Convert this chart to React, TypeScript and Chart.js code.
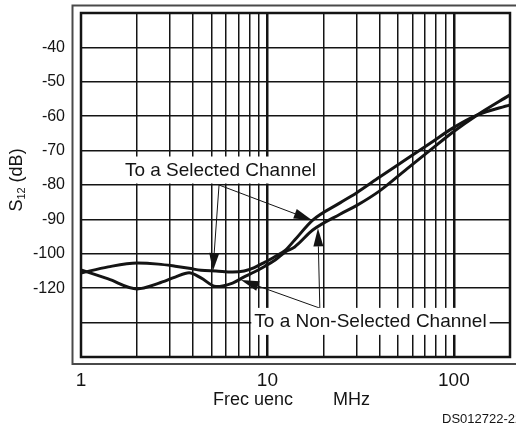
import { useEffect, useRef } from 'react';
import { Chart, registerables } from 'chart.js';

Chart.register(...registerables);

// ---- data (frequency in MHz, S12 on the drawn axis scale) ----
const freqSelected = [1, 1.4, 2, 2.6, 3.2, 3.8, 4.4, 5.3, 6.5, 7.5, 8.5, 9.7, 11, 12.5, 14, 17.5, 24.5, 30, 40, 56, 75, 99, 133, 200];
const dbSelected = [-105.6, -103.8, -102.7, -103.0, -103.6, -104.2, -104.8, -105.0, -105.3, -105.0, -104.0, -102.4, -100.8, -98.9, -96.0, -90.2, -85.2, -82.3, -77.7, -72.4, -67.8, -63.4, -59.7, -56.7];
const freqNonSelected = [1, 1.4, 2, 2.6, 3.2, 3.8, 4.4, 5.3, 6.5, 7.5, 8.5, 9.7, 11, 12.5, 14, 17.5, 24.5, 30, 40, 56, 75, 99, 133, 200];
const dbNonSelected = [-104.7, -107.3, -110.2, -108.6, -106.8, -105.5, -107.0, -109.5, -108.5, -106.7, -105.3, -103.6, -101.8, -99.4, -98.0, -93.1, -88.5, -86.0, -81.7, -75.3, -69.8, -64.6, -59.7, -53.8];

const xMin = 1;
const xMax = 200;
const xGridValues = [1, 2, 3, 4, 5, 6, 7, 8, 9, 10, 20, 30, 40, 50, 60, 70, 80, 90, 100, 200];
const xDecadeValues = [10, 100];
const xLabeledValues = [1, 10, 100];
const xTickLabels = ['1', '10', '100'];

const yMin = -130;
const yMax = -30;
const yStep = 10;
const yLabeledValues = [-40, -50, -60, -70, -80, -90, -100, -110];
const yTickLabels = ['-40', '-50', '-60', '-70', '-80', '-90', '-100', '-120'];

const xTitle = 'Frec uenc        MHz';
const yTitleMain = 'S';
const yTitleSub = '12';
const yTitleRest = ' (dB)';
const figureCode = 'DS012722-22';

// annotations, in data units [MHz, dB]
const selectedText = 'To a Selected Channel';
const selectedTextAt = [5.6, -75.5];
const selectedArrowFrom = [5.5, -80.0];
const selectedArrowTips = [[5.1, -105.0], [17.3, -90.2]];
const nonSelectedText = 'To a Non-Selected Channel';
const nonSelectedTextAt = [35.7, -119.5];
const nonSelectedArrowFrom = [19.1, -115.8];
const nonSelectedArrowTips = [[18.66, -92.6], [7.21, -107.6]];

const FONT = "'Liberation Sans', Arial, Helvetica, sans-serif";
const INK = '#141414';

function drawArrow(ctx: CanvasRenderingContext2D, x0: number, y0: number, x1: number, y1: number) {
  const ang = Math.atan2(y1 - y0, x1 - x0);
  const len = 18;
  const hw = 5;
  const bx = x1 - Math.cos(ang) * len;
  const by = y1 - Math.sin(ang) * len;
  ctx.beginPath();
  ctx.moveTo(x0, y0);
  ctx.lineTo(bx, by);
  ctx.lineWidth = 1;
  ctx.strokeStyle = INK;
  ctx.stroke();
  ctx.beginPath();
  ctx.moveTo(x1, y1);
  ctx.lineTo(bx - Math.sin(ang) * hw, by + Math.cos(ang) * hw);
  ctx.lineTo(bx + Math.sin(ang) * hw, by - Math.cos(ang) * hw);
  ctx.closePath();
  ctx.fillStyle = INK;
  ctx.fill();
}

function drawBoxedText(ctx: CanvasRenderingContext2D, text: string, cx: number, cy: number) {
  ctx.font = `19px ${FONT}`;
  const w = ctx.measureText(text).width;
  ctx.fillStyle = '#ffffff';
  ctx.fillRect(cx - w / 2 - 3, cy - 13, w + 6, 27);
  ctx.fillStyle = INK;
  ctx.textAlign = 'center';
  ctx.textBaseline = 'middle';
  ctx.fillText(text, cx, cy + 1);
}

const annotate = {
  id: 'annotate',
  afterDatasetsDraw(chart: any) {
    const { ctx, chartArea: a, scales } = chart;
    const sx = scales.x;
    const sy = scales.y;
    const px = (p: number[]) => [sx.getPixelForValue(p[0]), sy.getPixelForValue(p[1])];
    ctx.save();
    // plot border
    ctx.strokeStyle = INK;
    ctx.lineWidth = 2.5;
    ctx.strokeRect(a.left, a.top, a.right - a.left, a.bottom - a.top);

    // outer frame
    ctx.strokeStyle = '#4a4a4a';
    ctx.lineWidth = 2;
    ctx.beginPath();
    ctx.moveTo(chart.width + 5, a.top - 7.5);
    ctx.lineTo(a.left - 8.5, a.top - 7.5);
    ctx.lineTo(a.left - 8.5, a.bottom + 7);
    ctx.lineTo(chart.width + 5, a.bottom + 7);
    ctx.stroke();

    // selected channel annotation
    const sf = px(selectedArrowFrom);
    selectedArrowTips.forEach((t) => {
      const p = px(t);
      drawArrow(ctx, sf[0], sf[1], p[0], p[1]);
    });
    const st = px(selectedTextAt);
    drawBoxedText(ctx, selectedText, st[0], st[1]);

    // non-selected channel annotation
    const nf = px(nonSelectedArrowFrom);
    nonSelectedArrowTips.forEach((t) => {
      const p = px(t);
      drawArrow(ctx, nf[0], nf[1], p[0], p[1]);
    });
    const nt = px(nonSelectedTextAt);
    drawBoxedText(ctx, nonSelectedText, nt[0], nt[1]);

    // x title
    ctx.fillStyle = INK;
    ctx.font = `18px ${FONT}`;
    ctx.textAlign = 'center';
    ctx.textBaseline = 'alphabetic';
    ctx.fillText(xTitle, (a.left + a.right) / 2 - 4, a.bottom + 48);

    // figure code
    ctx.font = `13px ${FONT}`;
    ctx.textAlign = 'left';
    ctx.fillText(figureCode, a.right - 68, a.bottom + 66);

    // y title with subscript
    ctx.save();
    ctx.translate(22, (a.top + a.bottom) / 2 - 5);
    ctx.rotate(-Math.PI / 2);
    ctx.font = `18px ${FONT}`;
    const w1 = ctx.measureText(yTitleMain).width;
    const w3 = ctx.measureText(yTitleRest).width;
    ctx.font = `11px ${FONT}`;
    const w2 = ctx.measureText(yTitleSub).width;
    let x = -(w1 + w2 + w3) / 2;
    ctx.textAlign = 'left';
    ctx.textBaseline = 'alphabetic';
    ctx.font = `18px ${FONT}`;
    ctx.fillText(yTitleMain, x, 0);
    x += w1;
    ctx.font = `11px ${FONT}`;
    ctx.fillText(yTitleSub, x, 3);
    x += w2;
    ctx.font = `18px ${FONT}`;
    ctx.fillText(yTitleRest, x, 0);
    ctx.restore();

    ctx.restore();
  },
};

export default function App() {
  const ref = useRef<HTMLCanvasElement>(null);
  useEffect(() => {
    const canvas = ref.current!;
    const chart = new Chart(canvas, {
      type: 'line',
      data: {
        datasets: [
          {
            label: 'To a Selected Channel',
            data: freqSelected.map((f, i) => ({ x: f, y: dbSelected[i] })),
            borderColor: INK,
            borderWidth: 3,
            pointRadius: 0,
            cubicInterpolationMode: 'monotone',
            fill: false,
          },
          {
            label: 'To a Non-Selected Channel',
            data: freqNonSelected.map((f, i) => ({ x: f, y: dbNonSelected[i] })),
            borderColor: INK,
            borderWidth: 3,
            pointRadius: 0,
            cubicInterpolationMode: 'monotone',
            fill: false,
          },
        ],
      },
      options: {
        responsive: false,
        animation: false,
        events: [],
        layout: { padding: { left: 0, top: 13, right: 6, bottom: 0 } },
        plugins: { legend: { display: false }, tooltip: { enabled: false } },
        scales: {
          x: {
            type: 'logarithmic',
            min: xMin,
            max: xMax,
            afterBuildTicks: (s: any) => {
              s.ticks = xGridValues.map((v) => ({ value: v }));
            },
            afterFit: (s: any) => {
              s.height = 68;
              s.paddingLeft = 0;
              s.paddingRight = 0;
              s.paddingTop = 0;
              s.paddingBottom = 0;
            },
            grid: {
              color: INK,
              lineWidth: (c: any) => (c.tick && xDecadeValues.includes(c.tick.value) ? 2.5 : 1.5),
              drawTicks: false,
            },
            border: { display: false },
            ticks: {
              autoSkip: false,
              maxRotation: 0,
              padding: 12,
              color: INK,
              font: { family: FONT, size: 19 },
              callback: (v: any) => {
                const i = xLabeledValues.indexOf(Number(v));
                return i >= 0 ? xTickLabels[i] : '';
              },
            },
          },
          y: {
            type: 'linear',
            min: yMin,
            max: yMax,
            afterFit: (s: any) => {
              s.width = 81;
              s.paddingLeft = 0;
              s.paddingRight = 0;
              s.paddingTop = 0;
              s.paddingBottom = 0;
            },
            grid: { color: INK, lineWidth: 1.5, drawTicks: false },
            border: { display: false },
            ticks: {
              stepSize: yStep,
              padding: 16,
              color: INK,
              font: { family: FONT, size: 16 },
              callback: (v: any) => {
                const i = yLabeledValues.indexOf(Number(v));
                return i >= 0 ? yTickLabels[i] : '';
              },
            },
          },
        },
      },
      plugins: [annotate],
    } as any);
    return () => chart.destroy();
  }, []);
  return (
    <div style={{ position: 'fixed', left: 0, top: 0, width: 516, height: 425, background: '#ffffff' }}>
      <canvas ref={ref} width={516} height={425} style={{ display: 'block' }} />
    </div>
  );
}
